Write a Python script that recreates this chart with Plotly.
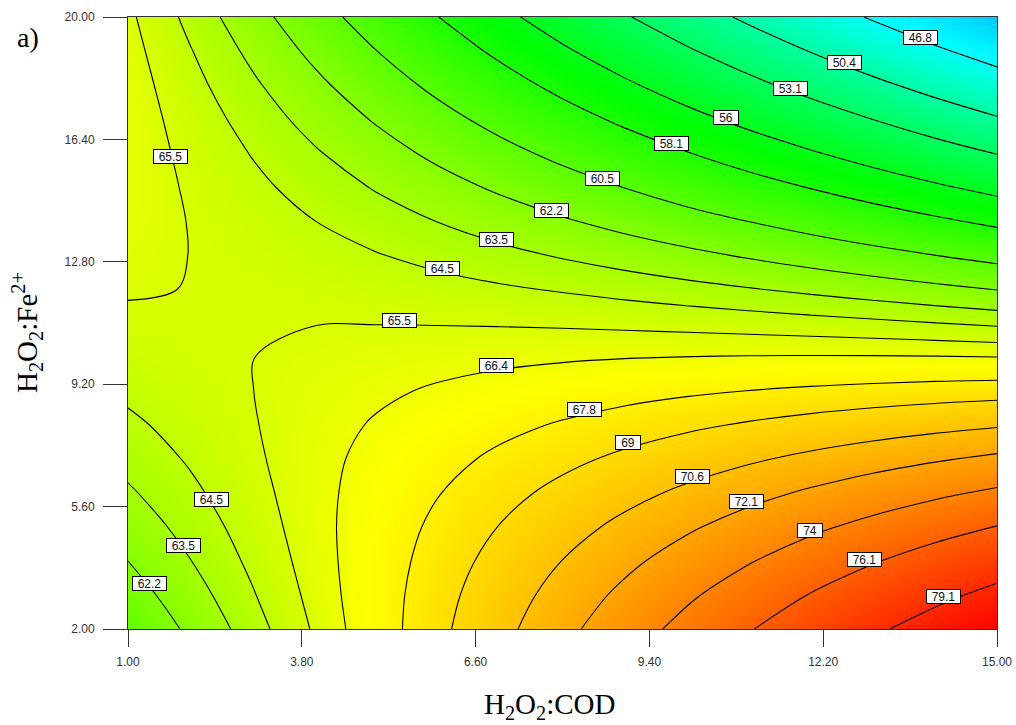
import plotly.graph_objects as go

# H2O2:COD ratio (x) and H2O2:Fe2+ ratio (y) grid
H2O2_COD = [1, 2, 3, 4, 5, 6, 7, 8, 9, 10, 11, 12, 13, 14, 15]
H2O2_FE = [2, 3, 4, 5, 6, 7, 8, 9, 10, 11, 12, 13, 14, 15, 16, 17, 18, 19, 20]

# predicted removal (%) on the grid, one row per H2O2:Fe2+ value
REMOVAL = [
    [60.85, 62.46, 64.05, 65.61, 67.16, 68.68, 70.18, 71.66, 73.12, 74.55, 75.97, 77.36, 78.73, 80.08, 81.40],
    [61.55, 62.99, 64.41, 65.80, 67.18, 68.53, 69.86, 71.17, 72.45, 73.72, 74.96, 76.18, 77.37, 78.55, 79.70],
    [62.20, 63.47, 64.72, 65.94, 67.14, 68.32, 69.48, 70.62, 71.73, 72.82, 73.89, 74.94, 75.97, 76.97, 77.96],
    [62.80, 63.90, 64.97, 66.03, 67.06, 68.07, 69.05, 70.02, 70.96, 71.88, 72.78, 73.66, 74.51, 75.35, 76.16],
    [63.35, 64.28, 65.18, 66.06, 66.92, 67.76, 68.58, 69.37, 70.14, 70.89, 71.62, 72.32, 73.01, 73.67, 74.31],
    [63.85, 64.61, 65.34, 66.05, 66.74, 67.40, 68.05, 68.67, 69.27, 69.85, 70.40, 70.94, 71.45, 71.94, 72.41],
    [64.30, 64.88, 65.44, 65.98, 66.50, 66.99, 67.47, 67.92, 68.35, 68.75, 69.14, 69.50, 69.84, 70.16, 70.46],
    [64.70, 65.11, 65.49, 65.86, 66.21, 66.53, 66.83, 67.11, 67.37, 67.61, 67.82, 68.01, 68.18, 68.33, 68.45],
    [65.04, 65.28, 65.49, 65.70, 65.87, 66.02, 66.15, 66.26, 66.35, 66.41, 66.45, 66.47, 66.47, 66.45, 66.40],
    [65.34, 65.41, 65.45, 65.48, 65.48, 65.46, 65.42, 65.36, 65.27, 65.16, 65.03, 64.88, 64.71, 64.51, 64.30],
    [65.58, 65.48, 65.35, 65.21, 65.04, 64.85, 64.63, 64.40, 64.14, 63.86, 63.56, 63.24, 62.90, 62.53, 62.14],
    [65.77, 65.49, 65.20, 64.89, 64.55, 64.18, 63.80, 63.39, 62.97, 62.52, 62.04, 61.55, 61.03, 60.49, 59.93],
    [65.92, 65.47, 65.00, 64.51, 64.00, 63.47, 62.91, 62.34, 61.74, 61.11, 60.47, 59.81, 59.12, 58.41, 57.68],
    [66.01, 65.39, 64.75, 64.09, 63.41, 62.70, 61.98, 61.23, 60.46, 59.66, 58.85, 58.01, 57.15, 56.27, 55.37],
    [66.05, 65.26, 64.45, 63.62, 62.76, 61.89, 60.99, 60.07, 59.12, 58.16, 57.17, 56.17, 55.14, 54.08, 53.01],
    [66.04, 65.08, 64.10, 63.09, 62.07, 61.02, 59.95, 58.86, 57.74, 56.61, 55.45, 54.27, 53.07, 51.84, 50.60],
    [65.98, 64.84, 63.69, 62.52, 61.32, 60.10, 58.86, 57.59, 56.31, 55.00, 53.67, 52.32, 50.95, 49.55, 48.14],
    [65.86, 64.56, 63.24, 61.89, 60.52, 59.13, 57.72, 56.28, 54.83, 53.35, 51.85, 50.32, 48.78, 47.21, 45.62],
    [65.70, 64.22, 62.73, 61.21, 59.67, 58.11, 56.52, 54.92, 53.29, 51.64, 49.97, 48.27, 46.56, 44.82, 43.06],
]

# contour levels drawn as lines
LEVELS = [46.8, 50.4, 53.1, 56, 58.1, 60.5, 62.2, 63.5, 64.5, 65.5,
          66.4, 67.8, 69, 70.6, 72.1, 74, 76.1, 79.1]

# where each contour value is written
LABEL_LEVEL = [46.8, 50.4, 53.1, 56, 58.1, 60.5, 62.2, 63.5, 64.5, 65.5,
               66.4, 67.8, 69, 70.6, 72.1, 74, 76.1, 79.1,
               65.5, 64.5, 63.5, 62.2]
LABEL_X = [13.76, 12.55, 11.68, 10.63, 9.75, 8.65, 7.83, 6.94, 6.07, 5.37,
           6.94, 8.35, 9.06, 10.10, 10.97, 11.99, 12.87, 14.13,
           1.69, 2.35, 1.89, 1.35]
LABEL_Y = [19.41, 18.65, 17.91, 17.03, 16.29, 15.26, 14.32, 13.47, 12.59, 11.06,
           9.76, 8.47, 7.50, 6.50, 5.76, 4.91, 4.03, 2.97,
           15.91, 5.82, 4.47, 3.35]

X_TICKS = [1.0, 3.8, 6.6, 9.4, 12.2, 15.0]
Y_TICKS = [2.0, 5.6, 9.2, 12.8, 16.4, 20.0]

# blue -> cyan -> green -> yellow -> red, anchored at response values
Z_MIN, Z_MAX = 30.0, 81.4
STOP_VALUES = [30.0, 46.5, 57.0, 67.0, 81.4]
STOP_COLORS = ["#0000ff", "#00ffff", "#00ff00", "#ffff00", "#ff0000"]
colorscale = [[(v - Z_MIN) / (Z_MAX - Z_MIN), c] for v, c in zip(STOP_VALUES, STOP_COLORS)]

SANS = "Liberation Sans, Arial, sans-serif"
SERIF = "Liberation Serif, Times New Roman, serif"

fig = go.Figure()

fig.add_trace(go.Heatmap(
    x=H2O2_COD, y=H2O2_FE, z=REMOVAL,
    zsmooth="best", colorscale=colorscale, zmin=Z_MIN, zmax=Z_MAX,
    showscale=False, hoverinfo="skip",
))

for lvl in LEVELS:
    fig.add_trace(go.Contour(
        x=H2O2_COD, y=H2O2_FE, z=REMOVAL,
        autocontour=False,
        contours=dict(start=lvl, end=lvl, size=1, coloring="none", showlabels=False),
        line=dict(color="black", width=1.1, smoothing=1.0),
        showscale=False, hoverinfo="skip",
    ))


def label_width(txt):
    digits = sum(ch.isdigit() for ch in txt)
    dots = txt.count(".")
    return 6 * digits + 3 * dots + 12


annotations = []
for lvl, lx, ly in zip(LABEL_LEVEL, LABEL_X, LABEL_Y):
    txt = f"{lvl:g}"
    annotations.append(dict(
        x=lx, y=ly, xref="x", yref="y", text=txt, showarrow=False,
        font=dict(family=SANS, size=12, color="#111111"),
        bgcolor="white", bordercolor="black", borderwidth=1, borderpad=0,
        width=label_width(txt), height=13,
    ))

# axis titles and panel letter
annotations.append(dict(
    x=0.4845, y=-0.126, xref="paper", yref="paper", xanchor="center", yanchor="middle",
    text="H<sub>2</sub>O<sub>2</sub>:COD", showarrow=False,
    font=dict(family=SERIF, size=29, color="black"),
))
annotations.append(dict(
    x=-0.1162, y=0.4837, xref="paper", yref="paper", xanchor="center", yanchor="middle",
    text="H<sub>2</sub>O<sub>2</sub>:Fe<sup>2+</sup>", showarrow=False, textangle=-90,
    font=dict(family=SERIF, size=29, color="black"),
))
annotations.append(dict(
    x=-0.115, y=0.9657, xref="paper", yref="paper", xanchor="center", yanchor="middle",
    text="a)", showarrow=False,
    font=dict(family=SERIF, size=28, color="black"),
))

axis_common = dict(
    showgrid=False, zeroline=False, showline=True, mirror=True, automargin=False,
    linecolor="#333333", linewidth=1, ticks="outside", tickcolor="#333333",
    tickwidth=1, tickfont=dict(family=SANS, size=12, color="#333333"),
)

fig.update_layout(
    width=1016, height=725,
    margin=dict(l=128, r=19, t=17, b=96),
    paper_bgcolor="white", plot_bgcolor="white",
    showlegend=False,
    annotations=annotations,
    xaxis=dict(range=[1, 15], tickvals=X_TICKS, ticktext=[f"{v:.2f}" for v in X_TICKS],
               ticklen=17, ticklabelstandoff=5, **axis_common),
    yaxis=dict(range=[2, 20], tickvals=Y_TICKS, ticktext=[f"{v:.2f}" for v in Y_TICKS],
               ticklen=24, ticklabelstandoff=6, **axis_common),
)

fig.write_html("out.html")
